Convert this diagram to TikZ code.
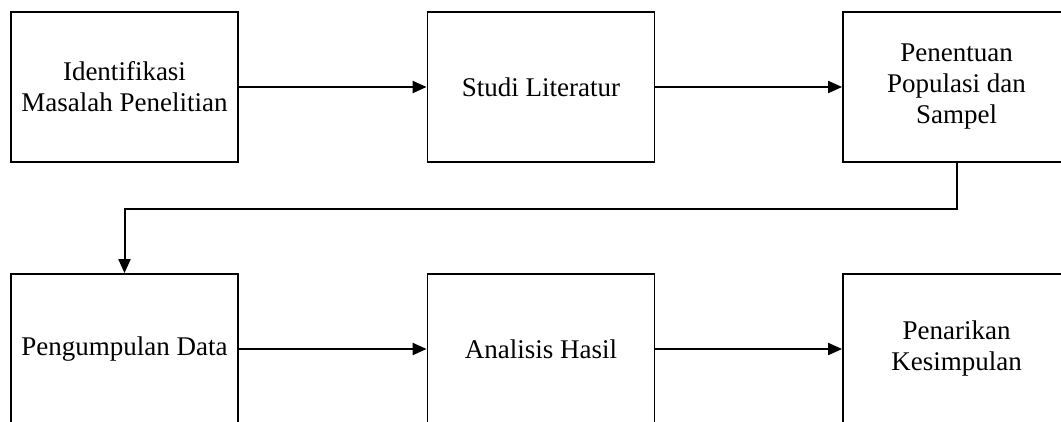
\documentclass[tikz,border=0pt]{standalone}
\usepackage{fontspec}
\setmainfont{Liberation Serif}
\usetikzlibrary{
  arrows.meta,
  calc,
  positioning
}
\tikzset{
  % For the research stages.
  stage/.style={
    draw,
    line width=1.8pt,
    minimum width=227pt,
    minimum height=150pt,
    inner sep=0pt,
    align=center,
    font=\fontsize{27pt}{31pt}\selectfont},
%
  % For connectors with one arrow.
  flow/.style={
    line width=2pt,
    -{Triangle[length=14pt,width=12pt]}}
}

\begin{document}
\begin{tikzpicture}[x=1pt, y=-1pt]
  \clip (0,0) rectangle (1061,421);

  \node[stage] (problem) at (124.5,87) {Identifikasi\\Masalah Penelitian};
  \node[stage] (study) at (541,87) {Studi Literatur};
  \node[stage] (sample) at (956.5,87) {Penentuan\\Populasi dan\\Sampel};

  \node[stage] (data) at (124.5,349) {Pengumpulan Data};
  \node[stage] (analysis) at (541,349) {Analisis Hasil};
  \node[stage] (conclusion) at (956.5,349) {Penarikan\\Kesimpulan};

  \draw[flow] (problem) -- (study);
  \draw[flow] (study) -- (sample);
  \draw[flow] (sample.south) -- ++(0,46) -| (data.north);
  \draw[flow] (data) -- (analysis);
  \draw[flow] (analysis) -- (conclusion);
\end{tikzpicture}
\end{document}
